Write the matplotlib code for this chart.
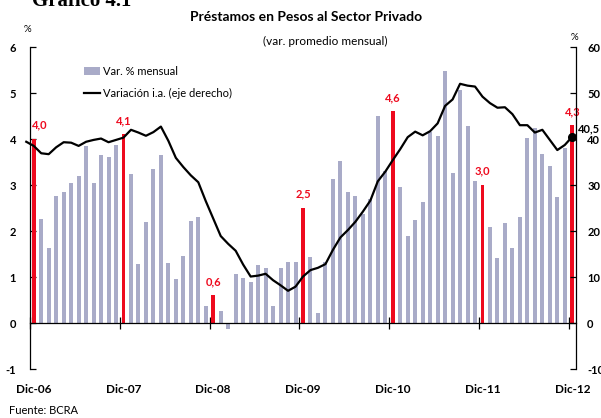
import matplotlib
matplotlib.use("Agg")
import matplotlib.pyplot as plt
import numpy as np

plt.rcParams['font.family'] = ['Lato', 'DejaVu Sans']

# ---- data -------------------------------------------------------------
months = list(range(0, 73))   # Dic-06 (0) ... Dic-12 (72)
monthly_var = [
    4.0, 2.26, 1.63, 2.77, 2.85, 3.04, 3.2, 3.85, 3.04, 3.65, 3.61, 3.87,
    4.1, 3.24, 1.28, 2.2, 3.35, 3.65, 1.31, 0.95, 1.45, 2.21, 2.3, 0.38,
    0.6, 0.26, -0.13, 1.07, 0.97, 0.9, 1.26, 1.19, 0.38, 1.2, 1.32, 1.32,
    2.5, 1.44, 0.21, 1.33, 3.13, 3.52, 2.85, 2.77, 2.37, 2.7, 4.5, 3.3,
    4.6, 2.95, 1.9, 2.23, 2.64, 4.16, 4.06, 5.48, 3.26, 5.07, 4.28, 3.08,
    3.0, 2.08, 1.41, 2.18, 1.64, 2.31, 4.03, 4.24, 3.67, 3.41, 2.74, 3.8,
    4.3]
# year-on-year series starts one month earlier (Nov-06)
yoy_months = list(range(-1, 73))
yoy_var = [
    39.4,
    38.5, 36.9, 36.7, 38.2, 39.3, 39.2, 38.5, 39.4, 39.8, 40.1, 39.3, 39.8,
    40.3, 42.0, 41.4, 40.7, 41.5, 42.7, 39.6, 35.9, 33.9, 32.1, 30.6, 26.5,
    22.7, 18.9, 17.2, 15.7, 12.7, 10.1, 10.3, 10.7, 9.3, 8.2, 7.0, 7.9,
    10.1, 11.5, 12.0, 12.8, 15.9, 18.6, 20.2, 22.0, 24.2, 26.6, 30.8, 32.9,
    35.4, 37.8, 40.4, 41.6, 40.8, 41.7, 43.4, 47.2, 48.6, 52.0, 51.6, 51.4,
    49.2, 47.8, 46.8, 46.9, 45.4, 43.0, 43.0, 41.4, 42.0, 39.8, 37.6, 38.7,
    40.5]
dec_idx = [0, 12, 24, 36, 48, 60, 72]
dec_labels = ["4,0", "4,1", "0,6", "2,5", "4,6", "3,0", "4,3"]
x_labels = ["Dic-06", "Dic-07", "Dic-08", "Dic-09", "Dic-10", "Dic-11", "Dic-12"]
left_ticks = [-1, 0, 1, 2, 3, 4, 5, 6]
right_ticks = [-10, 0, 10, 20, 30, 40, 50, 60]

GRAY = '#A9ABC8'
RED = '#EE0A1E'

W, H = 601, 418
fig = plt.figure(figsize=(W / 100, H / 100), dpi=100)
ax = fig.add_axes([30 / W, 1 - 369 / H, 546 / W, 322 / H])
ax.patch.set_alpha(0)

colors = [RED if m in dec_idx else GRAY for m in months]
bars = ax.bar(months, monthly_var, width=0.53, color=colors, linewidth=0, zorder=2)
ax.set_xlim(-0.5, 72.5)
ax.set_ylim(-1, 6)

for i, lab in zip(dec_idx, dec_labels):
    xo = 0.8 if i == 0 else 0
    ax.annotate(lab, (i + xo, monthly_var[i]), xytext=(0, 6), textcoords='offset points',
                ha='center', va='bottom', color=RED, fontsize=8, fontweight='bold')

for s in ['top', 'right']:
    ax.spines[s].set_visible(False)
ax.spines['bottom'].set_position(('data', 0))
ax.spines['bottom'].set_linewidth(0.9)
ax.spines['left'].set_linewidth(0.9)
ax.set_xticks([i - 0.5 for i in dec_idx])
ax.set_xticklabels([])
ax.tick_params(axis='x', direction='inout', length=8, width=0.9)
for i, lab in zip(dec_idx, x_labels):
    ax.text(i, -0.065, lab, transform=ax.get_xaxis_transform(), ha='center', va='center',
            fontsize=8.5, fontweight='bold')
ax.set_yticks(left_ticks)
ax.set_yticklabels([str(v) for v in left_ticks], fontsize=8, fontweight='bold')
ax.tick_params(axis='y', direction='in', length=4, width=0.9, pad=10)

ax2 = ax.twinx()
ax2.set_ylim(-10, 60)
line, = ax2.plot(yoy_months, yoy_var, color='black', linewidth=1.6, clip_on=False, zorder=3)
ax2.plot([yoy_months[-1]], [yoy_var[-1]], 'o', color='black', markersize=5.5, clip_on=False, zorder=4)
ax2.annotate("40,5", (yoy_months[-1], yoy_var[-1]), xytext=(4, 2), textcoords='offset points',
             ha='left', va='bottom', fontsize=8, fontweight='bold', annotation_clip=False)
for s in ['top', 'left', 'bottom']:
    ax2.spines[s].set_visible(False)
ax2.spines['right'].set_linewidth(0.9)
ax2.set_yticks(right_ticks)
ax2.set_yticklabels([str(v) for v in right_ticks], fontsize=8, fontweight='bold')
ax2.tick_params(axis='y', direction='in', length=4, width=0.9, pad=8)

leg = ax.legend([bars.patches[1], line], ["Var. % mensual", "Variación i.a. (eje derecho)"],
                loc='upper left', bbox_to_anchor=(84 / W, 1 - 66 / H), bbox_transform=fig.transFigure,
                frameon=False, fontsize=8, handlelength=1.4, handleheight=0.8,
                handletextpad=0.3, labelspacing=0.95, borderpad=0, borderaxespad=0)

fig.text(306 / W, 1 - 17 / H, "Préstamos en Pesos al Sector Privado", ha='center', va='center',
         fontsize=10, fontweight='bold')
fig.text(325 / W, 1 - 41 / H, "(var. promedio mensual)", ha='center', va='center', fontsize=8.5)
fig.text(32 / W, 1 - 6.5 / H, "Gráfico 4.1", ha='left', va='baseline', fontsize=15,
         fontweight='bold', family='Liberation Serif')
fig.text(27 / W, 1 - 29 / H, "%", ha='center', va='center', fontsize=7)
fig.text(574 / W, 1 - 37 / H, "%", ha='center', va='center', fontsize=7)
fig.text(9 / W, 1 - 410 / H, "Fuente: BCRA", ha='left', va='center', fontsize=8)

fig.savefig("out.png", dpi=100)
